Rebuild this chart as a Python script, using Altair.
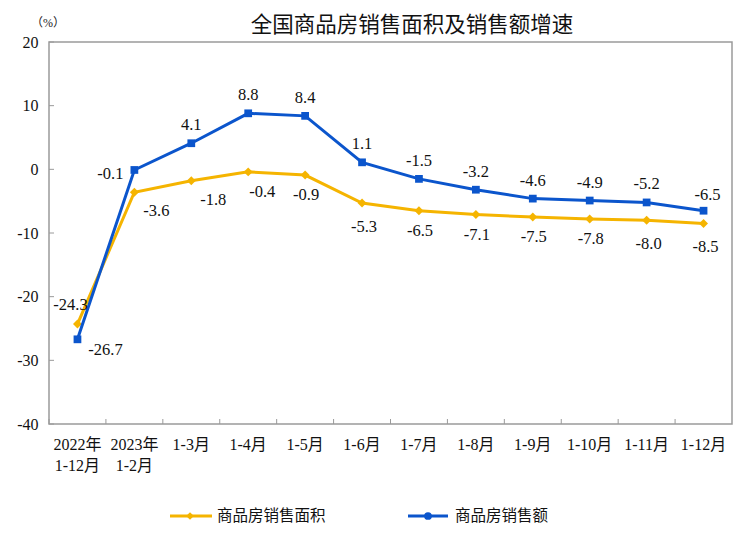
import altair as alt
import pandas as pd

# ---- data ----
categories = ["2022年\n1-12月", "2023年\n1-2月", "1-3月", "1-4月", "1-5月", "1-6月",
              "1-7月", "1-8月", "1-9月", "1-10月", "1-11月", "1-12月"]
area_growth = [-24.3, -3.6, -1.8, -0.4, -0.9, -5.3, -6.5, -7.1, -7.5, -7.8, -8.0, -8.5]
amount_growth = [-26.7, -0.1, 4.1, 8.8, 8.4, 1.1, -1.5, -3.2, -4.6, -4.9, -5.2, -6.5]
series_names = ["商品房销售面积", "商品房销售额"]
y_tick_values = [-40, -30, -20, -10, 0, 10, 20]
title_text = "全国商品房销售面积及销售额增速"
unit_text = "（%）"

# label placement keys (style only)
area_label_place = ["upleft", "downright", "downright", "downright_s", "down", "down_far",
                    "down", "down", "down", "down", "down_far", "down_far"]
amount_label_place = ["rightdown", "left", "up", "up", "up", "up",
                      "up", "up", "up", "up", "up", "up_right"]
place_offsets = {
    "up": (0, -18), "up_right": (4, -16), "down": (1, 20), "down_far": (2, 24),
    "upleft": (-7, -19), "downright": (22, 19), "downright_s": (14, 20),
    "rightdown": (28, 11), "left": (-24, 4),
}

colors = ["#F5B400", "#0B55CC"]
frame_color = "#9a9a9a"
serif = "Liberation Serif, Noto Sans CJK SC"
cjk = "Noto Sans CJK SC"

rows = []
for i, c in enumerate(categories):
    rows.append(dict(cat=c, series=series_names[0], value=area_growth[i], place=area_label_place[i]))
    rows.append(dict(cat=c, series=series_names[1], value=amount_growth[i], place=amount_label_place[i]))
df = pd.DataFrame(rows)
df["label"] = df["value"].map(lambda v: f"{v:.1f}")

W, H = 683, 382

x_scale = alt.Scale(type="band", domain=categories, paddingInner=0, paddingOuter=0)
y_scale = alt.Scale(domain=[-40, 20], nice=False, zero=False)

x_axis = alt.Axis(title=None, domain=False, ticks=False, grid=False, labelAngle=0,
                  labelExpr="split(datum.label, '\\n')", labelFont=serif, labelFontSize=16,
                  labelColor="#111", labelPadding=12, labelBaseline="top", labelLineHeight=21,
                  labelAlign="center")
y_axis = alt.Axis(title=None, domain=False, ticks=False, grid=False, values=y_tick_values,
                  labelExpr="datum.value + ''", labelFont=serif, labelFontSize=16,
                  labelColor="#111", labelPadding=11)


def xenc(band=0.5):
    return alt.X("cat:N", scale=x_scale, bandPosition=band, axis=x_axis, sort=categories)


yenc = alt.Y("value:Q", scale=y_scale, axis=y_axis)

base = alt.Chart(df)

layers = []

# inward y ticks
layers.append(
    alt.Chart(pd.DataFrame({"value": y_tick_values})).mark_rule(color=frame_color, strokeWidth=1)
    .encode(y=yenc, x=alt.value(0), x2=alt.value(5))
)
# inward category boundary ticks
layers.append(
    alt.Chart(pd.DataFrame({"cat": categories})).mark_rule(color=frame_color, strokeWidth=1)
    .encode(x=xenc(0), y=alt.value(H - 5), y2=alt.value(H))
)

shapes = ["diamond", "square"]
sizes = [80, 60]
for i, name in enumerate(series_names):
    sub = base.transform_filter(alt.datum.series == name)
    layers.append(sub.mark_line(color=colors[i], strokeWidth=3).encode(x=xenc(), y=yenc))
    layers.append(sub.mark_point(shape=shapes[i], filled=True, size=sizes[i], color=colors[i], opacity=1)
                  .encode(x=xenc(), y=yenc))

for p, (dx, dy) in place_offsets.items():
    layers.append(
        base.transform_filter(alt.datum.place == p)
        .mark_text(dx=dx, dy=dy, align="center", baseline="middle", font=serif, fontSize=16.5, color="#111")
        .encode(x=xenc(), y=yenc, text="label:N")
    )

# title and unit
layers.append(
    alt.Chart(pd.DataFrame({"t": [title_text]})).mark_text(
        font=cjk, fontSize=21.5, color="#111", align="center", baseline="middle")
    .encode(x=alt.value(363), y=alt.value(-16), text="t:N")
)
layers.append(
    alt.Chart(pd.DataFrame({"t": [unit_text]})).mark_text(
        font=serif, fontSize=12, color="#222", align="center", baseline="middle")
    .encode(x=alt.value(-1), y=alt.value(-19), text="t:N")
)

# custom legend (line + marker + text)
legend_y = 474
legend_pos = [(121, 163, 141, 168), (359, 399, 379, 406)]
legend_shapes = ["diamond", "circle"]
for i, name in enumerate(series_names):
    x0, x1, mx, tx = legend_pos[i]
    one = alt.Chart(pd.DataFrame({"series": [name]}))
    layers.append(one.mark_rule(color=colors[i], strokeWidth=3)
                  .encode(x=alt.value(x0), x2=alt.value(x1), y=alt.value(legend_y)))
    layers.append(one.mark_point(shape=legend_shapes[i], filled=True, size=60, color=colors[i], opacity=1)
                  .encode(x=alt.value(mx), y=alt.value(legend_y)))
    layers.append(one.mark_text(font=cjk, fontSize=15.5, color="#111", align="left", baseline="middle")
                  .encode(x=alt.value(tx), y=alt.value(legend_y), text="series:N"))

chart = alt.layer(*layers).properties(
    width=W, height=H,
    padding={"left": 41, "top": 34, "right": 8, "bottom": 101},
    autosize=alt.AutoSizeParams(type="none"),
    background="white",
).configure_view(stroke=frame_color, strokeWidth=1.5)

chart.save("out.html", embed_options={"renderer": "svg", "actions": False})
